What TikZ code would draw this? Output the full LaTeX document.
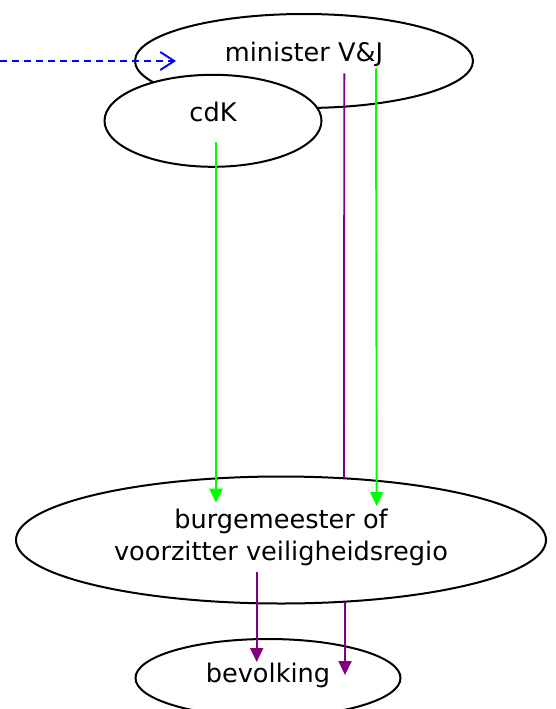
\documentclass[tikz,border=0pt]{standalone}
\usepackage{fontspec}
\setmainfont{DejaVu Sans}
\usetikzlibrary{arrows.meta,shapes.geometric}
\usetikzlibrary{positioning}
\definecolor{lijnpaars}{RGB}{128,0,128}
\tikzset{
    actor/.style={
           ellipse,
           draw=black, line width=2pt,
           fill=white,
           inner sep=2pt,
           text centered,
           font=\fontsize{25.6}{32}\selectfont,
           text height=19pt,
           text depth=17pt,
           },
    sturing/.style={draw={rgb,255:red,0;green,255;blue,0}, line width=1.9pt},
    gezag/.style={draw=lijnpaars, line width=1.9pt},
    advies/.style={draw=blue, line width=1.9pt, dash pattern=on 7pt off 5pt,
           -{Straight Barb[length=14pt,width=18pt,line width=1.9pt]}},
}

\begin{document}
\begin{tikzpicture}[x=1pt,y=-1pt,->,>={Triangle[length=14pt,width=13pt]}]
\useasboundingbox (0,0) rectangle (555,709);

 \node[actor, minimum width=338pt, minimum height=94pt] (minister) at (304,61)
 {minister V\&J};

 \node[actor,      % ellipse style from above
  minimum width=217pt,  % wide oval
  minimum height=92pt,
  yshift=-59.8pt,       % a bit lower than the minister
  left of=minister,     % sits left of the minister
  node distance=91pt,
  anchor=center] (cdK)
  {cdK};

 \node[actor,      % ellipse style from above
  minimum width=530pt,  % nearly the full width
  minimum height=127pt,
  align=center,
  text height=51.5pt,
  text depth=11.5pt,
  xshift=68pt,          % move right
  below of=cdK,         % far below the cdK
  node distance=419.2pt,
  anchor=center] (burg)
  {burgemeester of\\voorzitter veiligheidsregio};

 \node[actor,      % ellipse style from above
  minimum width=265pt,
  minimum height=78pt,
  text depth=11pt,
  xshift=-13pt,
  below of=burg,        % runs off the bottom edge
  node distance=138pt,
  anchor=center] (bevolking)
  {bevolking};

 % free end of the dashed line at the left border
 \coordinate (rand) at (0,61);

 % the lines between the ovals
 \path
 (rand) edge[advies] ([xshift=-128pt]minister.center)
 ([xshift=3pt,yshift=-21.5pt]cdK.center) edge[sturing] ([xshift=-65pt,yshift=37.3pt]burg.center)
 ([xshift=72pt,yshift=-7.3pt]minister.center) edge[sturing] ([xshift=95.7pt,yshift=34pt]burg.center)
 ([xshift=40.3pt,yshift=-12.3pt]minister.center) edge[gezag,-] ([xshift=63pt,yshift=61.7pt]burg.center)
 ([xshift=-24.3pt,yshift=-32.3pt]burg.center) edge[gezag] ([xshift=-11.3pt,yshift=16pt]bevolking.center)
 ([xshift=64pt,yshift=-61.7pt]burg.center) edge[gezag] ([xshift=77pt,yshift=3pt]bevolking.center);

\end{tikzpicture}
\end{document}
